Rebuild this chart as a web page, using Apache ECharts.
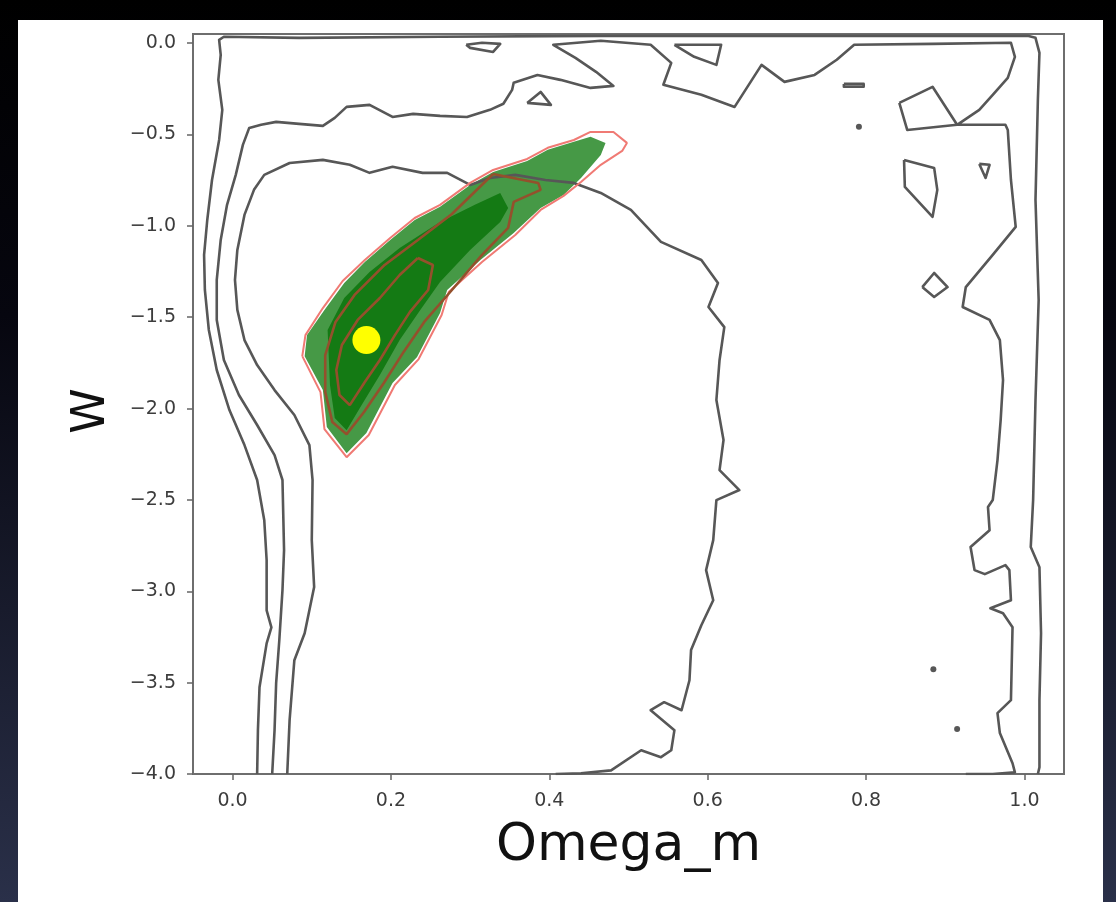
<!DOCTYPE html>
<html>
<head>
<meta charset="utf-8">
<title>Omega_m – w</title>
<script src="https://cdn.jsdelivr.net/npm/echarts@6/dist/echarts.min.js"></script>
<style>
  html, body { margin: 0; padding: 0; background: #000; }
  #chart { width: 1116px; height: 902px; }
</style>
</head>
<body>
<div id="chart"></div>
<script>
// Axis ticks
const xTickValues = [0, 0.2, 0.4, 0.6, 0.8, 1.0];
const yTickValues = [-4, -3.5, -3, -2.5, -2, -1.5, -1, -0.5, 0];

// Prior contours (grey), as [Omega_m, w] paths
const contourOuter = [
  [0.031,-4.0],[0.032,-3.760],[0.034,-3.525],[0.043,-3.285],[0.049,-3.197],[0.043,-3.104],
  [0.043,-2.830],[0.040,-2.611],[0.031,-2.391],[0.015,-2.200],[-0.004,-2.008],[-0.020,-1.789],
  [-0.030,-1.570],[-0.035,-1.351],[-0.036,-1.159],[-0.032,-0.968],[-0.026,-0.749],[-0.017,-0.530],
  [-0.013,-0.365],[-0.018,-0.201],[-0.015,-0.064],[-0.017,0.018],[-0.011,0.035],[0.084,0.029],
  [0.262,0.035],[0.465,0.040],[1.004,0.040],[1.014,0.029],[1.019,-0.053],[1.017,-0.311],
  [1.014,-0.858],[1.018,-1.406],[1.014,-1.953],[1.011,-2.501],[1.008,-2.758],[1.019,-2.868],
  [1.021,-3.230],[1.019,-3.596],[1.019,-3.963],[1.017,-4.0]
];
const contourMiddle = [
  [0.050,-4.0],[0.053,-3.760],[0.055,-3.503],[0.059,-3.268],[0.063,-2.994],[0.065,-2.775],
  [0.063,-2.391],[0.053,-2.255],[0.031,-2.090],[0.008,-1.926],[-0.011,-1.734],[-0.020,-1.515],
  [-0.020,-1.296],[-0.015,-1.077],[-0.007,-0.885],[0.004,-0.721],[0.013,-0.557],[0.021,-0.464],
  [0.036,-0.447],[0.055,-0.431],[0.084,-0.442],[0.114,-0.453],[0.129,-0.409],[0.144,-0.349],
  [0.173,-0.338],[0.202,-0.404],[0.228,-0.387],[0.262,-0.398],[0.296,-0.404],[0.325,-0.365],
  [0.342,-0.332],[0.353,-0.256],[0.355,-0.217],[0.385,-0.174],[0.414,-0.201],[0.452,-0.245],
  [0.481,-0.234],[0.459,-0.157],[0.433,-0.081],[0.405,-0.009],[0.465,0.013],[0.528,-0.009],
  [0.554,-0.108],[0.544,-0.228],[0.592,-0.283],[0.634,-0.349],[0.668,-0.119],[0.697,-0.212],
  [0.735,-0.174],[0.763,-0.091],[0.785,-0.009],[0.884,-0.004],[0.983,0.002],[0.988,-0.075],
  [0.979,-0.190],[0.960,-0.283],[0.943,-0.365],[0.915,-0.447],[0.976,-0.447],[0.979,-0.475],
  [0.983,-0.749],[0.989,-1.006],[0.960,-1.159],[0.926,-1.335],[0.922,-1.444],[0.956,-1.515],
  [0.969,-1.625],[0.973,-1.844],[0.970,-2.063],[0.966,-2.282],[0.960,-2.501],[0.954,-2.539],
  [0.956,-2.666],[0.932,-2.758],[0.937,-2.884],[0.950,-2.906],[0.976,-2.857],[0.981,-2.884],
  [0.983,-3.049],[0.957,-3.093],[0.973,-3.120],[0.985,-3.197],[0.983,-3.596],[0.966,-3.667],
  [0.969,-3.776],[0.985,-3.941],[0.988,-3.991],[0.960,-4.0],[0.926,-4.0]
];
const contourInner = [
  [0.069,-4.0],[0.072,-3.705],[0.078,-3.377],[0.091,-3.230],[0.103,-2.977],[0.100,-2.720],
  [0.101,-2.391],[0.097,-2.200],[0.078,-2.035],[0.053,-1.899],[0.031,-1.762],[0.015,-1.625],
  [0.006,-1.460],[0.003,-1.296],[0.006,-1.132],[0.015,-0.940],[0.027,-0.803],[0.040,-0.721],
  [0.072,-0.656],[0.114,-0.639],[0.148,-0.666],[0.173,-0.710],[0.202,-0.677],[0.240,-0.710],
  [0.271,-0.710],[0.300,-0.776],[0.325,-0.738],[0.357,-0.721],[0.395,-0.749],[0.431,-0.765],
  [0.465,-0.820],[0.503,-0.913],[0.541,-1.088],[0.592,-1.187],[0.613,-1.313],[0.601,-1.444],
  [0.621,-1.554],[0.615,-1.734],[0.611,-1.953],[0.620,-2.172],[0.615,-2.337],[0.640,-2.446],
  [0.611,-2.501],[0.607,-2.720],[0.598,-2.884],[0.607,-3.049],[0.592,-3.186],[0.579,-3.322],
  [0.577,-3.487],[0.567,-3.651],[0.545,-3.607],[0.528,-3.651],[0.558,-3.760],[0.554,-3.870],
  [0.541,-3.908],[0.516,-3.870],[0.478,-3.980],[0.440,-3.996],[0.408,-4.0]
];
// Small closed islands of the grey contours
const islands = [
  [[0.295,-0.009],[0.315,0.002],[0.338,-0.004],[0.329,-0.048],[0.300,-0.026],[0.295,-0.009]],
  [[0.372,-0.327],[0.389,-0.267],[0.402,-0.338],[0.372,-0.327]],
  [[0.558,-0.009],[0.617,-0.009],[0.611,-0.119],[0.583,-0.075],[0.558,-0.009]],
  [[0.772,-0.223],[0.797,-0.223],[0.797,-0.239],[0.772,-0.239],[0.772,-0.223]],
  [[0.842,-0.327],[0.884,-0.239],[0.915,-0.447],[0.852,-0.475],[0.842,-0.327]],
  [[0.943,-0.661],[0.956,-0.666],[0.951,-0.738],[0.943,-0.661]],
  [[0.848,-0.639],[0.886,-0.683],[0.890,-0.803],[0.884,-0.951],[0.849,-0.787],[0.848,-0.639]],
  [[0.871,-1.335],[0.886,-1.258],[0.903,-1.335],[0.886,-1.389],[0.871,-1.335]]
];
const islandDots = [[0.791,-0.458],[0.885,-3.427],[0.915,-3.754]];

// Posterior regions (filled green)
const posteriorOuter = [
  [0.091,-1.713],[0.094,-1.598],[0.116,-1.460],[0.141,-1.313],[0.167,-1.198],[0.199,-1.077],
  [0.230,-0.968],[0.262,-0.896],[0.300,-0.776],[0.329,-0.705],[0.372,-0.645],[0.398,-0.584],
  [0.431,-0.540],[0.452,-0.513],[0.471,-0.546],[0.465,-0.612],[0.440,-0.738],[0.418,-0.831],
  [0.389,-0.902],[0.355,-1.039],[0.313,-1.187],[0.271,-1.351],[0.262,-1.477],[0.233,-1.718],
  [0.202,-1.860],[0.169,-2.134],[0.144,-2.244],[0.119,-2.101],[0.114,-1.899]
];
const posteriorInner = [
  [0.120,-1.570],[0.141,-1.395],[0.173,-1.253],[0.211,-1.121],[0.262,-0.979],[0.306,-0.885],
  [0.338,-0.820],[0.348,-0.902],[0.338,-0.979],[0.300,-1.132],[0.262,-1.307],[0.237,-1.460],
  [0.211,-1.625],[0.186,-1.816],[0.163,-1.981],[0.144,-2.118],[0.129,-2.052],[0.123,-1.871]
];
// Second posterior (line contours)
const redOutline = [
  [0.088,-1.713],[0.092,-1.598],[0.114,-1.450],[0.139,-1.302],[0.167,-1.187],[0.199,-1.066],
  [0.230,-0.957],[0.262,-0.885],[0.300,-0.765],[0.329,-0.694],[0.372,-0.634],[0.398,-0.573],
  [0.431,-0.530],[0.452,-0.486],[0.481,-0.486],[0.498,-0.546],[0.492,-0.590],[0.465,-0.666],
  [0.440,-0.760],[0.418,-0.836],[0.389,-0.913],[0.357,-1.050],[0.315,-1.198],[0.273,-1.362],
  [0.264,-1.488],[0.235,-1.729],[0.205,-1.871],[0.172,-2.145],[0.144,-2.266],[0.116,-2.112],
  [0.111,-1.910],[0.088,-1.713]
];
const brownOuter = [
  [0.329,-0.716],[0.386,-0.765],[0.389,-0.803],[0.355,-0.869],[0.348,-1.011],[0.315,-1.159],
  [0.277,-1.351],[0.242,-1.526],[0.216,-1.690],[0.191,-1.860],[0.166,-2.019],[0.144,-2.140],
  [0.126,-2.074],[0.117,-1.910],[0.117,-1.707],[0.130,-1.526],[0.154,-1.378],[0.192,-1.214],
  [0.234,-1.077],[0.277,-0.935],[0.329,-0.716]
];
const brownInner = [
  [0.234,-1.176],[0.253,-1.214],[0.247,-1.351],[0.224,-1.471],[0.205,-1.598],[0.186,-1.734],
  [0.167,-1.855],[0.148,-1.981],[0.135,-1.926],[0.131,-1.789],[0.138,-1.652],[0.158,-1.515],
  [0.186,-1.395],[0.211,-1.269],[0.234,-1.176]
];
// Best-fit point
const bestFit = [[0.169,-1.625]];

const FONT = 'DejaVu Sans';
const GREY = '#575757';
const AXIS = '#6e6e6e';

function greyLine(pts) {
  return {
    type: 'line', data: pts, showSymbol: false, silent: true, z: 4,
    lineStyle: { color: GREY, width: 2.6, join: 'round' }
  };
}
function region(pts, fill, z) {
  return {
    type: 'custom', coordinateSystem: 'cartesian2d', silent: true, z: z,
    data: [pts[0]],
    renderItem: function (params, api) {
      return {
        type: 'polygon',
        shape: { points: pts.map(function (p) { return api.coord(p); }) },
        style: { fill: fill }
      };
    }
  };
}
function fmt(v) {
  return (v < 0 ? '\u2212' : '') + Math.abs(v).toFixed(1);
}

const series = [
  region(posteriorOuter, '#469946', 2),
  region(posteriorInner, '#147a14', 3),
  greyLine(contourOuter),
  greyLine(contourMiddle),
  greyLine(contourInner)
];
islands.forEach(function (loop) { series.push(greyLine(loop)); });
series.push({
  type: 'scatter', data: islandDots, symbolSize: 6, silent: true, z: 4,
  itemStyle: { color: GREY, opacity: 1 }
});
series.push({
  type: 'line', data: redOutline, showSymbol: false, silent: true, z: 5,
  lineStyle: { color: '#f07a74', width: 2 }
});
series.push({
  type: 'line', data: brownOuter, showSymbol: false, silent: true, z: 5,
  lineStyle: { color: '#94502c', width: 2.6 }
});
series.push({
  type: 'line', data: brownInner, showSymbol: false, silent: true, z: 5,
  lineStyle: { color: '#94502c', width: 2.6 }
});
series.push({
  type: 'scatter', data: bestFit, symbolSize: 28, silent: true, z: 6,
  itemStyle: { color: '#ffff00', opacity: 1 }
});

const chart = echarts.init(document.getElementById('chart'));
chart.setOption({
  animation: false,
  backgroundColor: {
    type: 'linear', x: 0, y: 0, x2: 0, y2: 1,
    colorStops: [{ offset: 0, color: '#000000' }, { offset: 0.35, color: '#06060f' }, { offset: 1, color: '#2a3049' }]
  },
  graphic: [{
    type: 'rect', z: -10, silent: true,
    shape: { x: 18, y: 20, width: 1085, height: 882 },
    style: { fill: '#ffffff' }
  }],
  grid: {
    left: 193, top: 34, width: 871, height: 740,
    show: true, borderColor: AXIS, borderWidth: 2, backgroundColor: 'transparent'
  },
  xAxis: {
    type: 'value', min: -0.05, max: 1.05,
    name: 'Omega_m', nameLocation: 'middle', nameGap: 46,
    nameTextStyle: { fontFamily: FONT, fontSize: 52, color: '#111' },
    axisLine: { show: true, onZero: false, lineStyle: { color: AXIS, width: 2 } },
    axisTick: { show: true, length: 6, customValues: xTickValues, lineStyle: { color: '#666', width: 1.5 } },
    axisLabel: { customValues: xTickValues, formatter: fmt, margin: 18,
      fontFamily: FONT, fontSize: 19, color: '#3c3c3c' },
    splitLine: { show: false }
  },
  yAxis: {
    type: 'value', min: -4, max: 0.05,
    name: 'W', nameLocation: 'middle', nameGap: 78, nameRotate: 90,
    nameTextStyle: { fontFamily: FONT, fontSize: 46, color: '#111', padding: [0, 14, 0, 0] },
    axisLine: { show: true, onZero: false, lineStyle: { color: AXIS, width: 2 } },
    axisTick: { show: true, length: 6, customValues: yTickValues, lineStyle: { color: '#666', width: 1.5 } },
    axisLabel: { customValues: yTickValues, formatter: fmt, margin: 17,
      fontFamily: FONT, fontSize: 19, color: '#3c3c3c' },
    splitLine: { show: false }
  },
  series: series
});
</script>
</body>
</html>
